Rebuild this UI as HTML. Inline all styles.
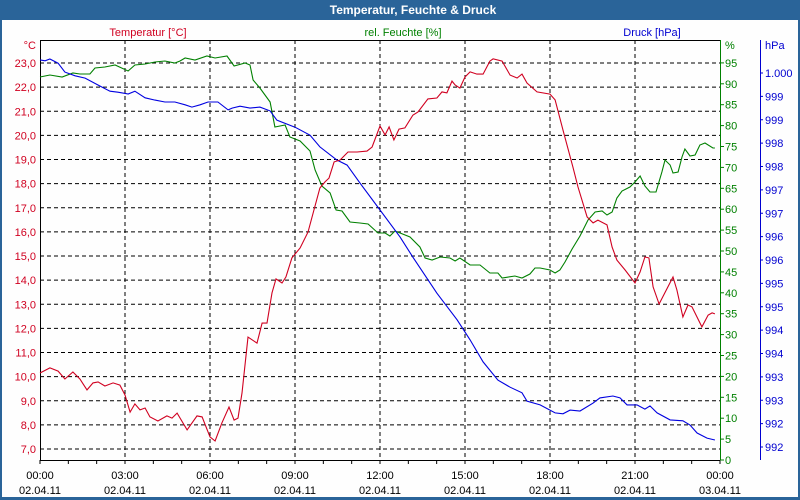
<!DOCTYPE html>
<html><head><meta charset="utf-8"><style>
body{margin:0;background:#fff;}
svg{display:block;font-family:"Liberation Sans",sans-serif;}
</style></head><body>
<svg id="chart" width="800" height="500" viewBox="0 0 800 500">
<rect x="0" y="0" width="800" height="500" fill="#2a6499"/>
<rect x="2" y="20" width="796" height="477" fill="#fefefe"/>
<text x="413" y="14" fill="#fff" font-size="12" font-weight="bold" text-anchor="middle">Temperatur, Feuchte &amp; Druck</text>
<text x="148" y="36" fill="#d00020" font-size="11" text-anchor="middle">Temperatur [°C]</text>
<text x="403" y="36" fill="#008000" font-size="11" text-anchor="middle">rel. Feuchte [%]</text>
<text x="652" y="36" fill="#0000d0" font-size="11" text-anchor="middle">Druck [hPa]</text>
<g id="grid"></g><g id="axes"></g><g id="series"></g>
</svg>
<script>
const tempTimes=[0,0.35,0.64,0.88,1.16,1.41,1.66,1.87,2.05,2.29,2.58,2.82,3.00,3.18,3.35,3.53,3.71,3.88,4.16,4.48,4.66,4.84,5.19,5.54,5.72,6.00,6.18,6.42,6.67,6.85,6.99,7.13,7.34,7.66,7.84,8.01,8.19,8.33,8.54,8.68,8.89,9.18,9.46,9.64,9.88,10.06,10.20,10.38,10.59,10.87,11.19,11.54,11.72,12.00,12.18,12.32,12.49,12.67,12.88,13.16,13.34,13.69,14.01,14.19,14.36,14.54,14.65,14.82,15.00,15.18,15.42,15.64,15.88,15.99,16.31,16.59,16.84,17.01,17.19,17.54,18.00,18.18,18.46,18.81,18.99,19.31,19.52,19.69,20.01,20.19,20.36,20.65,21.00,21.18,21.35,21.49,21.64,21.85,22.34,22.48,22.69,22.87,23.01,23.36,23.58,23.72,23.82];
const tempValues=[10.15,10.36,10.23,9.90,10.19,9.90,9.45,9.74,9.78,9.61,9.74,9.65,9.24,8.53,8.87,8.62,8.70,8.33,8.16,8.37,8.28,8.49,7.79,8.37,8.33,7.50,7.33,8.08,8.74,8.20,8.28,9.32,11.64,11.39,12.22,12.22,13.47,14.05,13.88,14.13,14.92,15.33,15.99,16.78,17.82,18.07,18.23,18.90,18.98,19.31,19.31,19.35,19.52,20.39,20.02,20.35,19.81,20.26,20.31,20.84,20.97,21.51,21.55,21.80,21.76,22.25,22.09,21.96,22.42,22.63,22.54,22.54,23.08,23.17,23.08,22.50,22.38,22.54,22.17,21.80,21.71,21.47,20.22,18.69,17.86,16.62,16.37,16.49,16.29,15.37,14.83,14.42,13.88,14.34,14.96,14.92,13.72,13.01,14.13,13.59,12.47,12.97,12.89,12.06,12.55,12.64,12.60];
const humTimes=[0,0.35,0.78,1.16,1.41,1.76,1.94,2.29,2.65,3.11,3.35,3.71,4.06,4.41,4.76,4.94,5.12,5.47,5.89,6.18,6.60,6.85,7.24,7.41,7.52,7.76,8.12,8.29,8.65,8.82,9.18,9.53,9.71,9.95,10.24,10.45,10.66,10.94,11.29,11.58,11.93,12.18,12.35,12.53,12.71,13.06,13.41,13.59,13.84,14.12,14.47,14.65,14.82,15.18,15.53,15.88,16.16,16.31,16.76,17.01,17.29,17.47,17.65,18.00,18.18,18.35,18.53,18.78,19.06,19.34,19.59,19.84,20.01,20.19,20.36,20.54,20.82,21.00,21.18,21.35,21.53,21.74,21.95,22.06,22.24,22.34,22.52,22.66,22.76,22.94,23.12,23.29,23.47,23.75,23.82];
const humValues=[91.63,92.11,91.63,92.58,92.34,92.34,93.78,94.02,94.50,93.06,94.50,94.74,95.22,95.45,94.98,95.45,96.17,95.69,96.65,96.17,96.65,94.26,94.98,94.50,90.91,89.00,85.65,79.67,80.14,77.27,76.32,73.92,69.38,65.55,63.88,59.81,59.57,56.94,56.70,56.46,54.31,54.31,53.59,54.78,54.31,53.35,50.96,48.33,47.85,48.56,48.33,47.61,48.33,46.65,46.65,44.74,44.74,43.54,44.02,43.54,44.50,45.93,45.93,45.45,44.74,45.45,47.37,50.48,53.59,57.42,59.33,59.57,58.61,59.33,62.68,64.35,65.31,66.51,67.94,65.55,64.11,64.11,68.90,71.77,70.57,68.66,68.90,72.49,74.40,72.73,72.97,75.36,75.84,74.64,74.64];
const presTimes=[0,0.18,0.35,0.64,0.88,1.24,1.59,2.12,2.47,2.75,3.11,3.35,3.71,4.06,4.41,4.76,5.12,5.36,5.65,5.93,6.28,6.64,6.78,7.06,7.41,7.76,8.12,8.36,9.00,9.53,9.88,10.48,10.84,11.29,12.00,12.71,13.16,14.01,14.72,15.18,15.64,16.16,16.59,17.01,17.19,17.65,18.18,18.46,18.71,19.06,19.52,19.76,20.22,20.47,20.72,21.07,21.35,21.53,21.78,22.24,22.69,22.94,23.19,23.54,23.82];
const presValues=[1000.28,1000.26,1000.30,1000.21,1000.02,999.94,999.89,999.72,999.61,999.59,999.55,999.61,999.47,999.42,999.38,999.38,999.32,999.27,999.32,999.38,999.38,999.21,999.25,999.29,999.25,999.27,999.19,998.99,998.84,998.67,998.42,998.14,998.03,997.65,997.07,996.49,996.06,995.29,994.72,994.29,993.82,993.43,993.28,993.16,992.98,992.90,992.73,992.71,992.79,992.77,992.94,993.05,993.09,993.05,992.90,992.90,992.81,992.88,992.73,992.58,992.56,992.47,992.30,992.19,992.15];
const tempTicks=[7,8,9,10,11,12,13,14,15,16,17,18,19,20,21,22,23];
const humTicks=[0,5,10,15,20,25,30,35,40,45,50,55,60,65,70,75,80,85,90,95];
const presTickValues=[1000,999.5,999,998.5,998,997.5,997,996.5,996,995.5,995,994.5,994,993.5,993,992.5,992];
const presTickLabels=["1.000","999","999","998","998","997","997","996","996","995","995","994","994","993","993","992","992"];
const timeLabels=["00:00","03:00","06:00","09:00","12:00","15:00","18:00","21:00","00:00"];
const dateLabels=["02.04.11","02.04.11","02.04.11","02.04.11","02.04.11","02.04.11","02.04.11","02.04.11","03.04.11"];

const L=40,R=720,T=40,B=460;
const xS=h=>L+h*(R-L)/24;
const yT=v=>63+(23-v)*24.125;
const yH=v=>B-v*4.18;
const yP=v=>73+(1000-v)*46.75;
const NS="http://www.w3.org/2000/svg";
function mk(tag,attrs,parent,txt){const e=document.createElementNS(NS,tag);for(const k in attrs)e.setAttribute(k,attrs[k]);if(txt!==undefined)e.textContent=txt;parent.appendChild(e);return e;}
const grid=document.getElementById('grid'),axes=document.getElementById('axes'),series=document.getElementById('series');

tempTicks.forEach(v=>{
  const y=yT(v);
  const g=mk('line',{x1:L,x2:R,y1:y,y2:y,stroke:'#000','stroke-dasharray':'4,3','stroke-width':1},grid);
  
  
  const t=mk('text',{x:36,y:y+4,fill:'#d00020','font-size':11,'text-anchor':'end'},axes,v.toFixed(1).replace('.',','));
  
  
});
timeLabels.forEach((s,i)=>{
  const x=xS(i*3);
  if(i>0&&i<8){const g=mk('line',{x1:x,x2:x,y1:T,y2:B,stroke:'#000','stroke-dasharray':'4,3','stroke-width':1},grid);
  
  }
  const t=mk('text',{x:x,y:479,fill:'#000','font-size':11,'text-anchor':'middle'},axes,s);
  
  
  const d=mk('text',{x:x,y:494,fill:'#000','font-size':11,'text-anchor':'middle'},axes,dateLabels[i]);
  
  
});
for(let h=0;h<=24;h++){const x=xS(h);const tk=mk('line',{x1:x,x2:x,y1:B,y2:B+4,stroke:'#000'},axes);
  
  }
let a=mk('path',{d:`M${L+0.5},${B} V${T+0.5} H${R}`,stroke:'#000',fill:'none'},axes);


a=mk('line',{x1:L,x2:R,y1:B+0.5,y2:B+0.5,stroke:'#000'},axes);


a=mk('line',{x1:R+0.5,x2:R+0.5,y1:T,y2:B,stroke:'#008000'},axes);


a=mk('line',{x1:760.5,x2:760.5,y1:T,y2:B,stroke:'#0000d0'},axes);


let u=mk('text',{x:36,y:49,fill:'#d00020','font-size':11,'text-anchor':'end'},axes,'°C');


u=mk('text',{x:725,y:49,fill:'#008000','font-size':11},axes,'%');


u=mk('text',{x:765,y:49,fill:'#0000d0','font-size':11},axes,'hPa');


humTicks.forEach(v=>{const y=yH(v);
  const tk=mk('line',{x1:R,x2:R+4,y1:y,y2:y,stroke:'#008000'},axes);
  
  
  const t=mk('text',{x:725,y:y+4,fill:'#008000','font-size':11},axes,String(v));
  
  
});
presTickValues.forEach((v,i)=>{const y=yP(v);
  const tk=mk('line',{x1:760,x2:763,y1:y,y2:y,stroke:'#0000d0'},axes);
  
  
  const t=mk('text',{x:765,y:y+4,fill:'#0000d0','font-size':11},axes,presTickLabels[i]);
  
  
});
function line(times,vals,ys,color,name){
  const d=times.map((t,i)=>(i?'L':'M')+xS(t).toFixed(1)+','+ys(vals[i]).toFixed(1)).join(' ');
  const p=mk('path',{d:d,stroke:color,fill:'none','stroke-width':1.1},series);
  
  
}
line(humTimes,humValues,yH,'#008000','humidity-line');
line(presTimes,presValues,yP,'#0000e0','pressure-line');
line(tempTimes,tempValues,yT,'#d00020','temperature-line');
</script>
</body></html>
